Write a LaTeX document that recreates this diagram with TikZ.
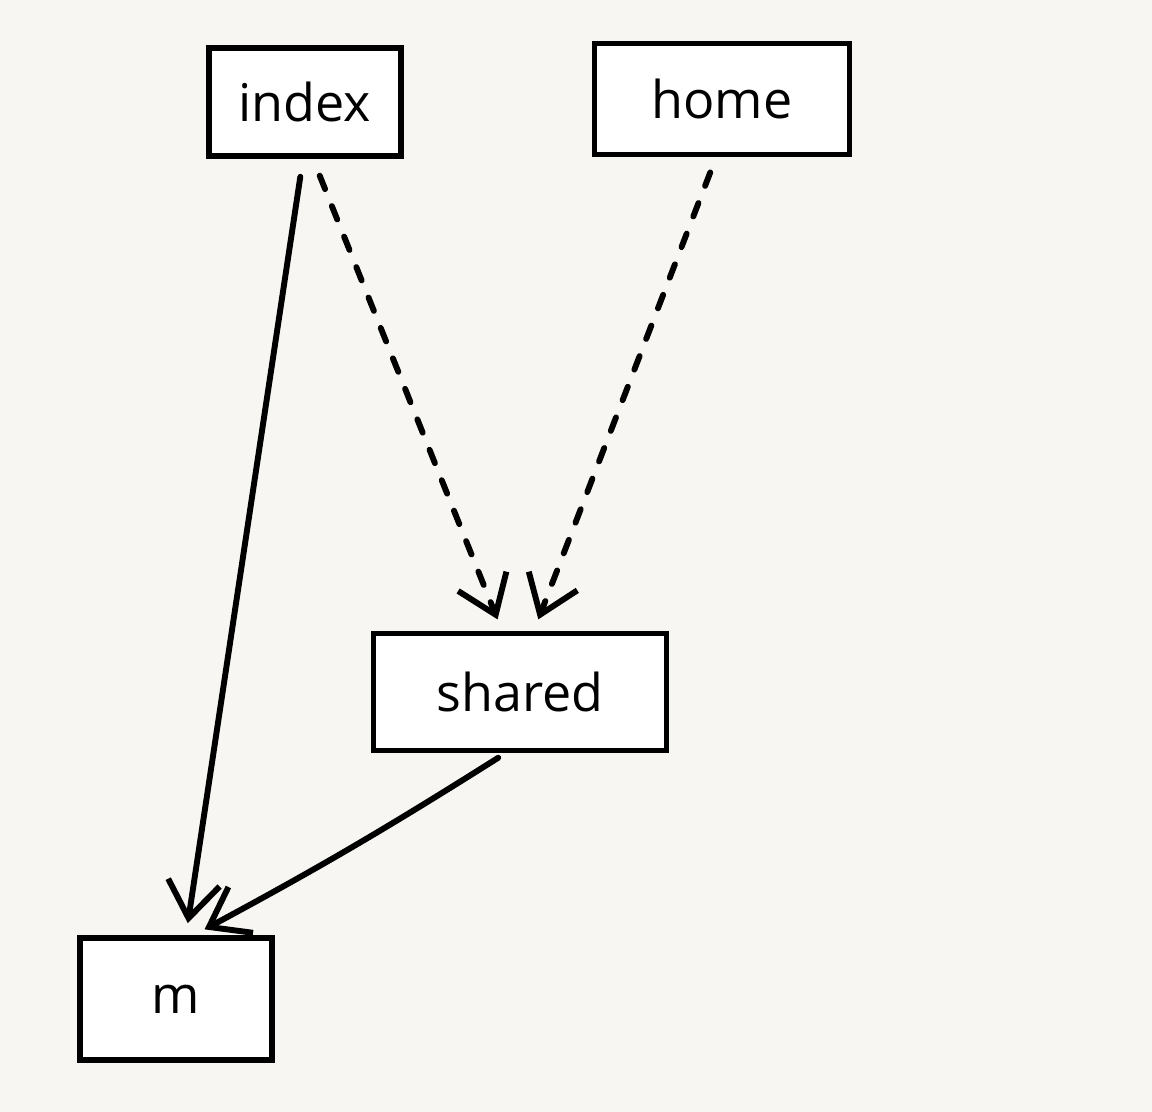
\documentclass[tikz,border=0pt]{standalone}
\usepackage{fontspec}
\setmainfont{Open Sans}
\usetikzlibrary{arrows.meta}
\definecolor{paper}{RGB}{247,246,242}
\tikzset{
  box/.style={draw,fill=white,line width=4.2pt,inner sep=0pt,
    font=\fontsize{37}{40}\selectfont},
  link/.style={line width=4.2pt,line cap=round,
    -{Straight Barb[length=0.9cm,width=1.3cm,line width=4.2pt]}},
  weak/.style={link,dash pattern=on 0.36cm off 0.46cm},
}
\begin{document}
\begin{tikzpicture}[x=0.025cm,y=-0.025cm]
\fill[paper] (0,0) rectangle (1152,1112);
\useasboundingbox (0,0) rectangle (1152,1112);

%Index
\node[box,minimum width=4.8cm,minimum height=2.7cm
] (index) at (305,102){index};

%Home
\node[box,minimum width=6.375cm,minimum height=2.775cm
] (home) at (722,99){home};

%Shared
\node[box,minimum width=7.325cm,minimum height=2.925cm
] (shared) at (520,692){shared};

%M
\node[box,minimum width=4.8cm,minimum height=3.05cm
] (m) at (176,999){m};

\draw[link, shorten <=0.45cm, shorten >=0.3cm] (index.south) ++(-2,0) coordinate (is) (is) -- ([xshift=0.25cm]m.north) ;
\draw[link, shorten <=0.2cm, shorten >=0.3cm] (shared.south) ++(-15,0) coordinate (ss) (ss) to[bend left=2] ([xshift=0.45cm]m.north);
\draw[weak, shorten <=0.45cm, shorten >=0.3cm] ([xshift=0.2cm]index.south) -- ([xshift=-0.45cm]shared.north);
\draw[weak, shorten <=0.4cm, shorten >=0.3cm] ([xshift=-0.15cm]home.south) -- ([xshift=0.35cm]shared.north);

\end{tikzpicture}
\end{document}
